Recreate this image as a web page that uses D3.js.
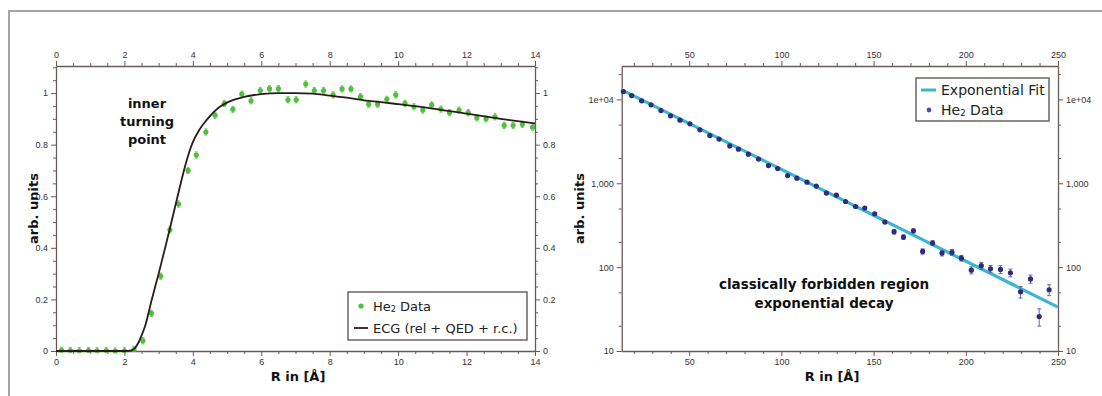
<!DOCTYPE html>
<html><head><meta charset="utf-8">
<script src="https://cdn.jsdelivr.net/npm/d3@7"></script>
<style>
html,body{margin:0;padding:0;background:#fff;}
svg{display:block;font-family:"DejaVu Sans",Verdana,sans-serif;}
</style></head><body>
<svg id="chart" width="1102" height="396"></svg>
<script>
// ---- Left panel: He2 probability distribution vs. internuclear distance ----
const pdfR = [0.16,0.42,0.68,0.95,1.2,1.47,1.73,2.0,2.28,2.54,2.79,3.06,3.33,3.58,3.86,4.1,4.38,4.65,4.92,5.17,5.43,5.7,5.97,6.24,6.5,6.78,7.02,7.3,7.55,7.82,8.1,8.36,8.62,8.9,9.14,9.4,9.67,9.93,10.2,10.46,10.72,10.98,11.25,11.5,11.78,12.05,12.3,12.57,12.83,13.1,13.36,13.63,13.93];
const pdfVal = [0.003,0.002,0.001,0.002,0.001,0.002,0.0,0.001,0.006,0.04,0.146,0.29,0.47,0.57,0.70,0.76,0.849,0.914,0.96,0.937,0.996,0.97,1.01,1.017,1.017,0.974,0.974,1.035,1.01,1.01,0.993,1.016,1.016,0.986,0.957,0.957,0.976,0.993,0.96,0.947,0.934,0.954,0.938,0.924,0.934,0.924,0.904,0.9,0.908,0.875,0.875,0.879,0.868];
const pdfErr = 0.012;
const ecgR = [0,1,2,2.2,2.3,2.4,2.5,2.6,2.8,3.0,3.2,3.4,3.6,3.8,4.0,4.2,4.4,4.6,4.8,5.0,5.5,6.0,6.5,7.0,7.5,8,8.5,9,9.5,10,11,12,13,14];
const ecgVal = [0,0,0,0.002,0.01,0.03,0.06,0.095,0.2,0.3,0.405,0.515,0.625,0.73,0.81,0.86,0.895,0.925,0.948,0.963,0.985,0.996,1.0,1.0,0.998,0.99,0.982,0.972,0.965,0.957,0.94,0.92,0.90,0.882];
const leftXTicks = [0,2,4,6,8,10,12,14];
const leftYTicks = [0,0.2,0.4,0.6,0.8,1];

// ---- Right panel: classically forbidden tail on a log scale ----
const tailR = [14.3,18.8,24.2,29.3,34.7,39.9,45.0,50.4,55.8,61.2,66.2,72.0,76.7,82.1,87.6,93.0,98.0,103.4,108.4,113.9,118.9,124.4,129.8,134.8,140.2,145.2,150.6,156.1,161.1,166.2,171.6,176.6,182.0,187.1,192.5,197.6,203.0,208.4,213.4,218.8,224.2,229.7,235.1,239.8,245.2];
const tailVal = [12390,11100,9600,8600,7360,6360,5650,5110,4330,3700,3360,2790,2550,2220,1940,1625,1500,1236,1150,1030,925,763,721,606,528,506,433,344,264,228,271,154,194,147,150,128,92,104,95.5,94,85.7,50.8,72.3,25.8,53.7];
const tailErr = [150,130,110,100,90,80,70,60,55,50,45,40,35,32,28,25,22,20,18,17,15,14,13,14,13,13,12,12,16,14,15,11,13,11,12,10,9,10,9,10,9,8,8,6,8];
const fitR = [13.4, 250];
const fitVal = [12980, 33.4];
const rightXTicks = [50,100,150,200,250];
const rightYTicks = [10,100,1000,10000];
const rightYLabels = ["10","100","1,000","1e+04"];

const AXIS = "#6a5a5a", TXT = "#333";
const svg = d3.select("#chart");
svg.append("rect").attr("width",1102).attr("height",396).attr("fill","#fff");
// outer frame (top and left edges)
svg.append("path").attr("d","M9,396V11H1102").attr("fill","none").attr("stroke","#a3a3a3").attr("stroke-width",2);

function styleAxis(g){
  g.select(".domain").attr("stroke",AXIS).attr("stroke-width",1.3);
  g.selectAll(".tick line").attr("stroke",AXIS).attr("stroke-width",1);
  g.selectAll(".tick text").attr("fill",TXT).attr("font-size",9);
}
function frameAxes(x, y, xTicks, yTicks, yFmt, xMinor, yMinor){
  const [xl,xr] = x.range(), [yb,yt] = y.range();
  const defs = [
    [d3.axisBottom(x).tickValues(xTicks), `translate(0,${yb})`, d3.axisBottom(x).tickValues(xMinor)],
    [d3.axisTop(x).tickValues(xTicks), `translate(0,${yt})`, d3.axisTop(x).tickValues(xMinor)],
    [d3.axisLeft(y).tickValues(yTicks).tickFormat(yFmt), `translate(${xl},0)`, d3.axisLeft(y).tickValues(yMinor)],
    [d3.axisRight(y).tickValues(yTicks).tickFormat(yFmt), `translate(${xr},0)`, d3.axisRight(y).tickValues(yMinor)]
  ];
  defs.forEach(([ax, tr, minor]) => {
    svg.append("g").attr("transform",tr)
      .call(minor.tickSize(3).tickSizeOuter(0).tickFormat(""))
      .call(g => { g.select(".domain").remove(); g.selectAll(".tick line").attr("stroke",AXIS); });
    svg.append("g").attr("transform",tr)
      .call(ax.tickSize(5).tickSizeOuter(0).tickPadding(3))
      .call(styleAxis);
  });
}
function errorBars(g, xs, vs, es, x, y, color, w){
  xs.forEach((r,i) => {
    const e = Array.isArray(es) ? es[i] : es;
    const lo = Math.max(vs[i]-e, y.domain()[0]), hi = vs[i]+e;
    const px = x(r);
    g.append("line").attr("x1",px).attr("x2",px).attr("y1",y(lo)).attr("y2",y(hi)).attr("stroke",color).attr("stroke-width",1);
    [lo,hi].forEach(v => g.append("line").attr("x1",px-w).attr("x2",px+w).attr("y1",y(v)).attr("y2",y(v)).attr("stroke",color).attr("stroke-width",1));
  });
}
function axisTitles(cx, cy, xTitleX){
  svg.append("text").attr("x",xTitleX).attr("y",376).attr("text-anchor","middle").attr("dominant-baseline","central")
    .attr("font-size",13).attr("font-weight","bold").attr("fill","#111").text("R in [Å]");
  svg.append("text").attr("transform",`translate(${cx},${cy}) rotate(-90)`).attr("text-anchor","middle").attr("dominant-baseline","central")
    .attr("font-size",13).attr("font-weight","bold").attr("fill","#111").text("arb. units");
}
function legendLabel(g, x, y, parts, size){
  const t = g.append("text").attr("x",x).attr("y",y).attr("dominant-baseline","central").attr("font-size",size).attr("fill","#222");
  parts.forEach(p => {
    if (p.sub) t.append("tspan").attr("font-size",size*0.62).attr("dy",3).text(p.sub);
    else t.append("tspan").attr("dy", p.reset ? -3 : 0).text(p.t);
  });
}

// ---------- Left panel ----------
const xL = d3.scaleLinear().domain([0,14]).range([56,535]);
const yL = d3.scaleLinear().domain([0,1.105]).range([351,66]);
frameAxes(xL, yL, leftXTicks, leftYTicks, d3.format("~g"),
  d3.range(0,14.01,0.5).filter(v => v%2), d3.range(0,1.101,0.05).filter(v => Math.abs(v*5-Math.round(v*5))>1e-6));

const gL = svg.append("g");
errorBars(gL, pdfR, pdfVal, pdfErr, xL, yL, "#6ccc5a", 1.5);
gL.selectAll("circle").data(pdfR).join("circle")
  .attr("cx",d => xL(d)).attr("cy",(d,i) => yL(pdfVal[i])).attr("r",2.6).attr("fill","#4fbf3d");
gL.append("path").datum(ecgR.map((r,i) => [r, ecgVal[i]]))
  .attr("d", d3.line().x(d => xL(d[0])).y(d => yL(d[1])).curve(d3.curveMonotoneX))
  .attr("fill","none").attr("stroke","#2a1c1c").attr("stroke-width",1.8);

const note1 = svg.append("text").attr("text-anchor","middle").attr("font-size",13).attr("font-weight","bold").attr("fill","#111");
["inner","turning","point"].forEach((s,i) => note1.append("tspan").attr("x",147).attr("y",103+18*i).attr("dominant-baseline","central").text(s));
axisTitles(33, 208.5, 298);

// legend
const lgL = svg.append("g");
lgL.append("rect").attr("x",348).attr("y",292).attr("width",179).attr("height",48).attr("fill","#fff").attr("stroke","#6d6363").attr("stroke-width",1.5);
lgL.append("circle").attr("cx",361).attr("cy",306).attr("r",2.6).attr("fill","#4fbf3d");
lgL.append("line").attr("x1",354).attr("x2",368).attr("y1",328).attr("y2",328).attr("stroke","#2a1c1c").attr("stroke-width",1.8);
legendLabel(lgL, 373, 306, [{t:"He"},{sub:"2"},{t:" Data",reset:true}], 13);
legendLabel(lgL, 373, 328, [{t:"ECG (rel + QED + r.c.)"}], 13);

// ---------- Right panel ----------
const xR = d3.scaleLinear().domain([13.4,250]).range([621.7,1058]);
const yR = d3.scaleLog().domain([10,25000]).range([351,66]);
const logMinor = [];
[10,100,1000,10000].forEach(b => [2,5].forEach(m => { if (b*m < 25000) logMinor.push(b*m); }));
frameAxes(xR, yR, rightXTicks, rightYTicks, (d,i) => rightYLabels[rightYTicks.indexOf(d)],
  d3.range(20,250,10).filter(v => v%50), logMinor);

const gR = svg.append("g");
gR.append("path").datum(fitR.map((r,i) => [r, fitVal[i]]))
  .attr("d", d3.line().x(d => xR(d[0])).y(d => yR(d[1])))
  .attr("fill","none").attr("stroke","#3cb6cf").attr("stroke-width",3.2);
errorBars(gR, tailR, tailVal, tailErr, xR, yR, "#6a64a8", 2);
gR.selectAll("circle").data(tailR).join("circle")
  .attr("cx",d => xR(d)).attr("cy",(d,i) => yR(tailVal[i])).attr("r",2.6).attr("fill","#2c2d7c");

const note2 = svg.append("text").attr("text-anchor","middle").attr("font-size",13.5).attr("font-weight","bold").attr("fill","#111");
["classically forbidden region","exponential decay"].forEach((s,i) => note2.append("tspan").attr("x",824).attr("y",284+19*i).attr("dominant-baseline","central").text(s));
axisTitles(579, 208.5, 832);

const lgR = svg.append("g");
lgR.append("rect").attr("x",916).attr("y",78).attr("width",133).attr("height",43).attr("fill","#fff").attr("stroke","#6d6363").attr("stroke-width",1.5);
lgR.append("line").attr("x1",921).attr("x2",936).attr("y1",90).attr("y2",90).attr("stroke","#3cb6cf").attr("stroke-width",3);
lgR.append("circle").attr("cx",929).attr("cy",110).attr("r",2.4).attr("fill","#5646ad");
legendLabel(lgR, 941, 90, [{t:"Exponential Fit"}], 14);
legendLabel(lgR, 941, 110, [{t:"He"},{sub:"2"},{t:" Data",reset:true}], 14);
</script>
</body></html>
